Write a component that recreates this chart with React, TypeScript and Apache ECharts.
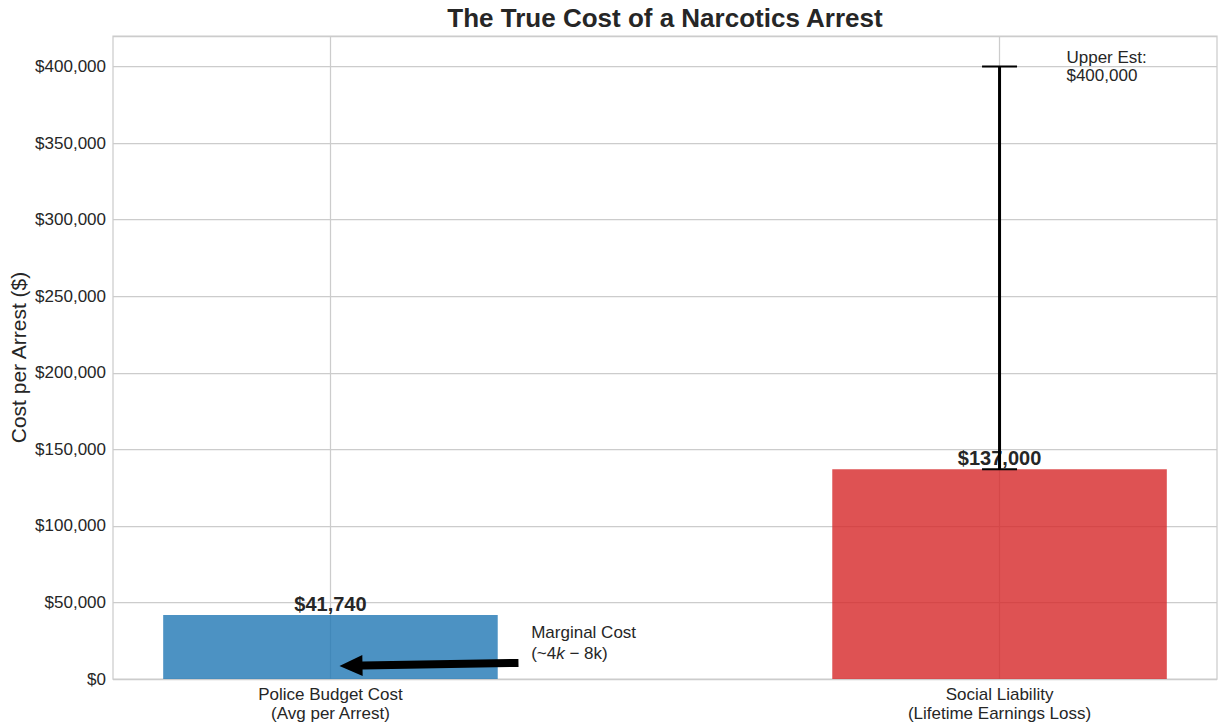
import React, { useEffect, useRef } from 'react';
import * as echarts from 'echarts';

const FONT = '"Liberation Sans", Arial, Helvetica, sans-serif';
const TEXT = '#262626';
const GRID = '#cccccc';

const categories = ['Police Budget Cost\n(Avg per Arrest)', 'Social Liability\n(Lifetime Earnings Loss)'];
const positions = [0, 1];
const costs = [41740, 137000];
const barLabels = ['$41,740', '$137,000'];
const barColors = ['rgba(31,119,180,0.8)', 'rgba(214,39,40,0.8)'];
const barHalfWidth = 0.25;

const errorPos = [1];
const errorLow = [137000];
const errorHigh = [400000];

const upperNotePos = [1.1, 400000];
const upperNoteText = 'Upper Est:\n$400,000';

const marginalNotePos = [0.3, 23500];
const marginalArrowTail = [0.281, 10500];
const marginalArrowTip = [0.0135, 8500];

const yMin = 0;
const yMax = 420000;
const yStep = 50000;
const yLastLabel = 400000;
const xMin = -0.325;
const xMax = 1.325;

export default function App() {
  const ref = useRef<HTMLDivElement>(null);
  useEffect(() => {
    if (!ref.current) return;
    const chart = echarts.init(ref.current, null, { renderer: 'svg' });
    const option: any = {
      animation: false,
      textStyle: { fontFamily: FONT },
      grid: { left: 113, right: 8, top: 36, bottom: 44, show: true, borderColor: GRID, borderWidth: 1.25, backgroundColor: 'transparent', outerBoundsMode: 'none', containLabel: false },
      xAxis: {
        type: 'value', min: xMin, max: xMax,
        axisLine: { show: false },
        axisTick: { show: false, customValues: positions },
        axisLabel: {
          customValues: positions,
          formatter: (v: number) => { const i = positions.indexOf(v); return i >= 0 ? categories[i] : ''; },
          fontSize: 17, color: TEXT, lineHeight: 19, margin: 6, fontFamily: FONT,
        },
        splitLine: { show: true, lineStyle: { color: GRID, width: 1.25 } },
      },
      yAxis: {
        type: 'value', min: yMin, max: yMax, interval: yStep,
        name: 'Cost per Arrest ($)', nameLocation: 'middle', nameGap: 84, nameMoveOverlap: false,
        nameTextStyle: { fontSize: 21, color: TEXT, fontFamily: FONT },
        axisLine: { show: false }, axisTick: { show: false },
        axisLabel: {
          fontSize: 17, color: TEXT, margin: 7, fontFamily: FONT,
          formatter: (v: number) => (v > yLastLabel ? '' : '$' + v.toLocaleString('en-US')),
        },
        splitLine: { show: true, lineStyle: { color: GRID, width: 1.25 } },
      },
      graphic: [
        {
          type: 'text', x: 665, y: 18,
          style: { text: 'The True Cost of a Narcotics Arrest', font: `bold 26px ${FONT}`, fill: TEXT, align: 'center', verticalAlign: 'middle' },
        },
      ],
      series: [
        {
          type: 'custom',
          data: positions.map((p, i) => [p, costs[i]]),
          renderItem: (params: any, api: any) => {
            const x = api.value(0);
            const y = api.value(1);
            const i = params.dataIndex;
            const p0 = api.coord([x - barHalfWidth, y]);
            const p1 = api.coord([x + barHalfWidth, 0]);
            const c = api.coord([x, y]);
            return {
              type: 'group',
              children: [
                { type: 'rect', shape: { x: p0[0], y: p0[1], width: p1[0] - p0[0], height: p1[1] - p0[1] }, style: { fill: barColors[i] } },
                { type: 'text', x: c[0], y: c[1] - 1, style: { text: barLabels[i], font: `bold 20px ${FONT}`, fill: TEXT, align: 'center', verticalAlign: 'bottom' } },
              ],
            };
          },
        },
        {
          type: 'custom',
          z: 3,
          data: errorPos.map((p, i) => [p, errorLow[i], errorHigh[i]]),
          renderItem: (params: any, api: any) => {
            const x = api.value(0);
            const lo = api.coord([x, api.value(1)]);
            const hi = api.coord([x, api.value(2)]);
            const cap = 17.5;
            return {
              type: 'group',
              children: [
                { type: 'line', shape: { x1: lo[0], y1: lo[1], x2: hi[0], y2: hi[1] }, style: { stroke: '#000', lineWidth: 3 } },
                { type: 'line', shape: { x1: hi[0] - cap, y1: hi[1], x2: hi[0] + cap, y2: hi[1] }, style: { stroke: '#000', lineWidth: 2 } },
                { type: 'line', shape: { x1: lo[0] - cap, y1: lo[1], x2: lo[0] + cap, y2: lo[1] }, style: { stroke: '#000', lineWidth: 2 } },
              ],
            };
          },
        },
        {
          type: 'custom',
          z: 4,
          data: [upperNotePos],
          renderItem: (params: any, api: any) => {
            const c = api.coord([api.value(0), api.value(1)]);
            return { type: 'text', x: c[0], y: c[1], style: { text: upperNoteText, font: `17px ${FONT}`, fill: TEXT, align: 'left', verticalAlign: 'middle', lineHeight: 18 } };
          },
        },
        {
          type: 'custom',
          z: 4,
          data: [[marginalNotePos[0], marginalNotePos[1], marginalArrowTail[0], marginalArrowTail[1], marginalArrowTip[0], marginalArrowTip[1]]],
          renderItem: (params: any, api: any) => {
            const c = api.coord([api.value(0), api.value(1)]);
            const t = api.coord([api.value(2), api.value(3)]);
            const h = api.coord([api.value(4), api.value(5)]);
            const dx = h[0] - t[0], dy = h[1] - t[1];
            const len = Math.sqrt(dx * dx + dy * dy);
            const ux = dx / len, uy = dy / len;
            const nx = -uy, ny = ux;
            const shaftW = 4, headW = 10.5, headL = 23;
            const bx = h[0] - ux * headL, by = h[1] - uy * headL;
            const pts = [
              [t[0] + nx * shaftW, t[1] + ny * shaftW],
              [bx + nx * shaftW, by + ny * shaftW],
              [bx + nx * headW, by + ny * headW],
              [h[0], h[1]],
              [bx - nx * headW, by - ny * headW],
              [bx - nx * shaftW, by - ny * shaftW],
              [t[0] - nx * shaftW, t[1] - ny * shaftW],
            ];
            return {
              type: 'group',
              children: [
                { type: 'polygon', shape: { points: pts }, style: { fill: '#000' } },
                {
                  type: 'text', x: c[0], y: c[1],
                  style: {
                    text: 'Marginal Cost\n(~4{it|k} − 8k)',
                    font: `17px ${FONT}`, fill: TEXT, align: 'left', verticalAlign: 'middle', lineHeight: 21,
                    rich: { it: { fontStyle: 'italic', fontSize: 17, fontFamily: FONT, fill: TEXT, lineHeight: 21 } },
                  },
                },
              ],
            };
          },
        },
      ],
    };
    chart.setOption(option);
    return () => chart.dispose();
  }, []);
  return <div ref={ref} style={{ position: 'fixed', left: 0, top: 0, width: 1225, height: 723, background: '#fff' }} />;
}
